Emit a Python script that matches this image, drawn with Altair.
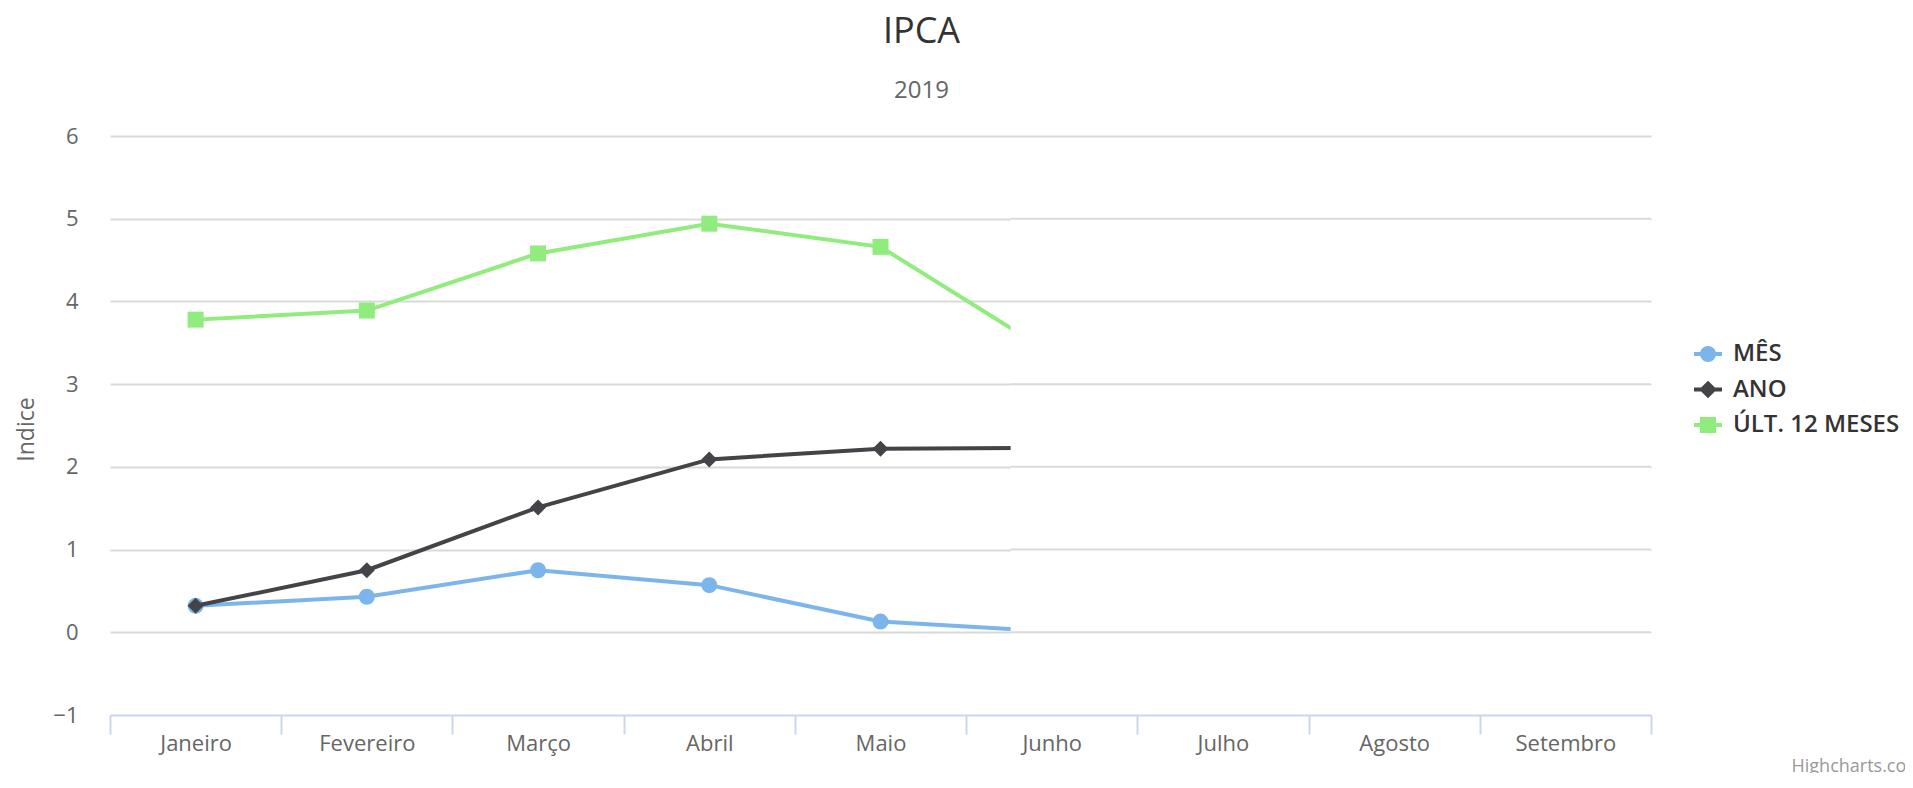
import altair as alt
import pandas as pd

# ---- data ----
meses = ["Janeiro", "Fevereiro", "Março", "Abril", "Maio", "Junho", "Julho", "Agosto", "Setembro"]
series = ["MÊS", "ANO", "ÚLT. 12 MESES"]
mes = [0.32, 0.43, 0.75, 0.57, 0.13, 0.01]
ano = [0.32, 0.75, 1.51, 2.09, 2.22, 2.23]
ult12 = [3.78, 3.89, 4.58, 4.94, 4.66, 3.37]
y_ticks = [-1, 0, 1, 2, 3, 4, 5, 6]
# the series are cut off (drawing animation) at this point on the month axis
corte = 4.76

cores = ["#7cb5ec", "#434348", "#90ed7d"]
formas = ["circle", "diamond", "square"]
FONT = "Open Sans"
GRID = "#d9d9d9"

rows = []
for nome, vals in zip(series, [mes, ano, ult12]):
    for i, v in enumerate(vals):
        rows.append({"serie": nome, "idx": i, "valor": v})
df = pd.DataFrame(rows)

W, H = 1541, 579
n = len(meses)
x_end = n - 0.5
band = W / n

x_scale = alt.Scale(domain=[-0.5, x_end], nice=False, zero=False)
y_scale = alt.Scale(domain=[min(y_ticks), max(y_ticks)], nice=False, zero=False)

label_array = "[" + ",".join("'%s'" % m for m in meses) + "]"
x_axis = alt.Axis(
    values=[i - 0.5 for i in range(n + 1)],
    labelExpr=f"datum.value < {x_end} ? {label_array}[datum.value + 0.5] : ''",
    labelOffset=band / 2,
    labelFlush=False,
    labelOverlap=False,
    labelBound=False,
    labelFont=FONT,
    labelFontSize=22,
    labelColor="#666666",
    labelBaseline="middle",
    labelPadding=9,
    grid=False,
    ticks=True,
    tickSize=19,
    tickColor="#ccd6eb",
    tickWidth=2,
    domainColor="#ccd6eb",
    domainWidth=2,
    title="Highcharts.com",
    titleFont=FONT,
    titleFontSize=18,
    titleFontWeight="normal",
    titleColor="#999999",
    titleX=1681,
    titleY=56,
    titleAlign="left",
    titleBaseline="alphabetic",
    titleAngle=0,
)

y_axis = alt.Axis(
    values=y_ticks,
    format="d",
    labelFont=FONT,
    labelFontSize=22,
    labelColor="#666666",
    labelPadding=32,
    labelBaseline="middle",
    ticks=False,
    domain=False,
    grid=True,
    gridColor=GRID,
    gridWidth=2,
    gridOpacity={"condition": {"test": f"datum.value === {min(y_ticks)}", "value": 0}, "value": 1},
    title="Indice",
    titleFont=FONT,
    titleFontSize=23,
    titleFontWeight="normal",
    titleColor="#666666",
    titleAngle=270,
    titleX=-84,
    titleY=293,
    titleAlign="center",
    titleBaseline="middle",
)


def X(field):
    return alt.X(field, scale=x_scale, axis=x_axis)


def Y(field):
    return alt.Y(field, scale=y_scale, axis=y_axis)


layers = []
for nome, cor, forma in zip(series, cores, formas):
    base = alt.Chart(df).transform_filter(alt.datum.serie == nome)
    line = base.mark_line(color=cor, strokeWidth=4).encode(x=X("idx:Q"), y=Y("valor:Q"))
    pts = base.mark_point(filled=True, shape=forma, size=256, color=cor, opacity=1).encode(
        x=X("idx:Q"), y=Y("valor:Q")
    )
    layers += [line, pts]

# white mask for the part of the series not yet drawn (animation clip)
mask_df = pd.DataFrame({"x0": [corte], "x1": [x_end], "y0": [-0.5], "y1": [5.5]})
mask = alt.Chart(mask_df).mark_rect(color="white", opacity=1).encode(
    x=X("x0:Q"), x2="x1:Q", y=Y("y0:Q"), y2="y1:Q"
)
grid_df = pd.DataFrame({"g": [v for v in y_ticks if -0.5 < v < 5.5]})
grid_df["x0"] = corte
grid_df["x1"] = x_end
grid_redraw = alt.Chart(grid_df).mark_rule(color=GRID, strokeWidth=2).encode(
    x=X("x0:Q"), x2="x1:Q", y=Y("g:Q")
)

# legend (line + marker symbols)
r = 0.43
paths = [
    f"M-1,0H1M-{r},0A{r},{r} 0 1,0 {r},0A{r},{r} 0 1,0 -{r},0Z",
    f"M-1,0H1M0,-{r}L{r},0L0,{r}L-{r},0Z",
    f"M-1,0H1M-{r},-{r}H{r}V{r}H-{r}Z",
]
leg_df = pd.DataFrame({"serie": series, "idx": [0] * 3, "valor": [None] * 3})
leg_props = dict(
    title=None,
    orient="none",
    legendX=1582,
    legendY=202,
    labelFont=FONT,
    labelFontSize=24,
    labelFontWeight=600,
    labelColor="#333333",
    labelOffset=9,
    labelLimit=400,
    symbolSize=784,
    symbolStrokeWidth=4,
    rowPadding=4.5,
    padding=0,
)
legend_layer = alt.Chart(leg_df).mark_point(filled=True, size=784, strokeWidth=4, opacity=1).encode(
    x=X("idx:Q"),
    y=Y("valor:Q"),
    fill=alt.Fill("serie:N", scale=alt.Scale(domain=series, range=cores), legend=alt.Legend(**leg_props)),
    stroke=alt.Stroke("serie:N", scale=alt.Scale(domain=series, range=cores), legend=alt.Legend(**leg_props)),
    shape=alt.Shape("serie:N", scale=alt.Scale(domain=series, range=paths), legend=alt.Legend(**leg_props)),
)

chart = (
    alt.layer(*layers, mask, grid_redraw, legend_layer)
    .properties(
        width=W,
        height=H,
        autosize=alt.AutoSizeParams(type="none"),
        padding={"left": 102, "top": 128, "right": 254, "bottom": 58},
        background="white",
        title=alt.TitleParams(
            text="IPCA",
            subtitle="2019",
            font=FONT,
            fontSize=36,
            fontWeight="normal",
            color="#333333",
            subtitleFont=FONT,
            subtitleFontSize=24,
            subtitleColor="#666666",
            subtitlePadding=28,
            offset=21,
            anchor="middle",
            dx=41,
        ),
    )
    .configure_view(stroke=None)
)

chart.save("out.html", embed_options={"renderer": "svg", "actions": False})
